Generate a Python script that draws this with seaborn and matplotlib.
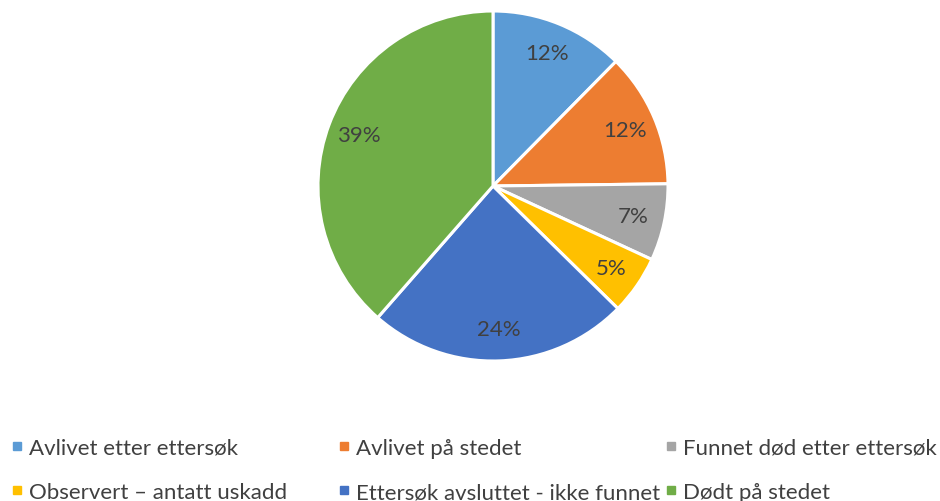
import matplotlib
matplotlib.use('Agg')
import matplotlib.pyplot as plt
from matplotlib.lines import Line2D
import seaborn as sns

sns.set_theme(style='white')
plt.rcParams['font.family'] = ['Lato', 'DejaVu Sans']

# data (shares in percent)
categories = ['Avlivet etter ettersøk', 'Avlivet på stedet', 'Funnet død etter ettersøk',
              'Observert – antatt uskadd', 'Ettersøk avsluttet - ikke funnet', 'Dødt på stedet']
shares = [12.4, 12.4, 7.1, 5.45, 24.1, 38.55]
colors = ['#5B9BD5', '#ED7D31', '#A5A5A5', '#FFC000', '#4472C4', '#70AD47']

W, H = 940, 502
fig = plt.figure(figsize=(W / 100, H / 100), dpi=100)

# pie centre (493, 187) px, radius 175 px
cx, cy, r = 493, 187, 175
ax = fig.add_axes([(cx - r) / W, (H - cy - r) / H, 2 * r / W, 2 * r / H])
wedges, texts, autotexts = ax.pie(
    shares, colors=colors, startangle=90, counterclock=False,
    autopct='%.0f%%', pctdistance=0.82,
    wedgeprops=dict(edgecolor='white', linewidth=2.2),
    textprops=dict(color='#404040', fontsize=16))
ax.set_xlim(-1, 1)
ax.set_ylim(-1, 1)
ax.axis('off')

# legend laid out row by row, three columns at fixed x positions
col_x = [11, 338, 665]
for col in range(3):
    idx = [col, col + 3]
    handles = [Line2D([], [], marker='s', linestyle='none', markersize=5.8,
                      markerfacecolor=colors[i], markeredgecolor=colors[i]) for i in idx]
    fig.legend(handles, [categories[i] for i in idx], loc='center left',
               bbox_to_anchor=(col_x[col] / W, 1 - 471 / H), frameon=False,
               fontsize=16, labelcolor='#404040', handlelength=0.5, handletextpad=0.31,
               labelspacing=1.1, borderpad=0, borderaxespad=0)

fig.savefig('out.png', dpi=100, facecolor='white')
